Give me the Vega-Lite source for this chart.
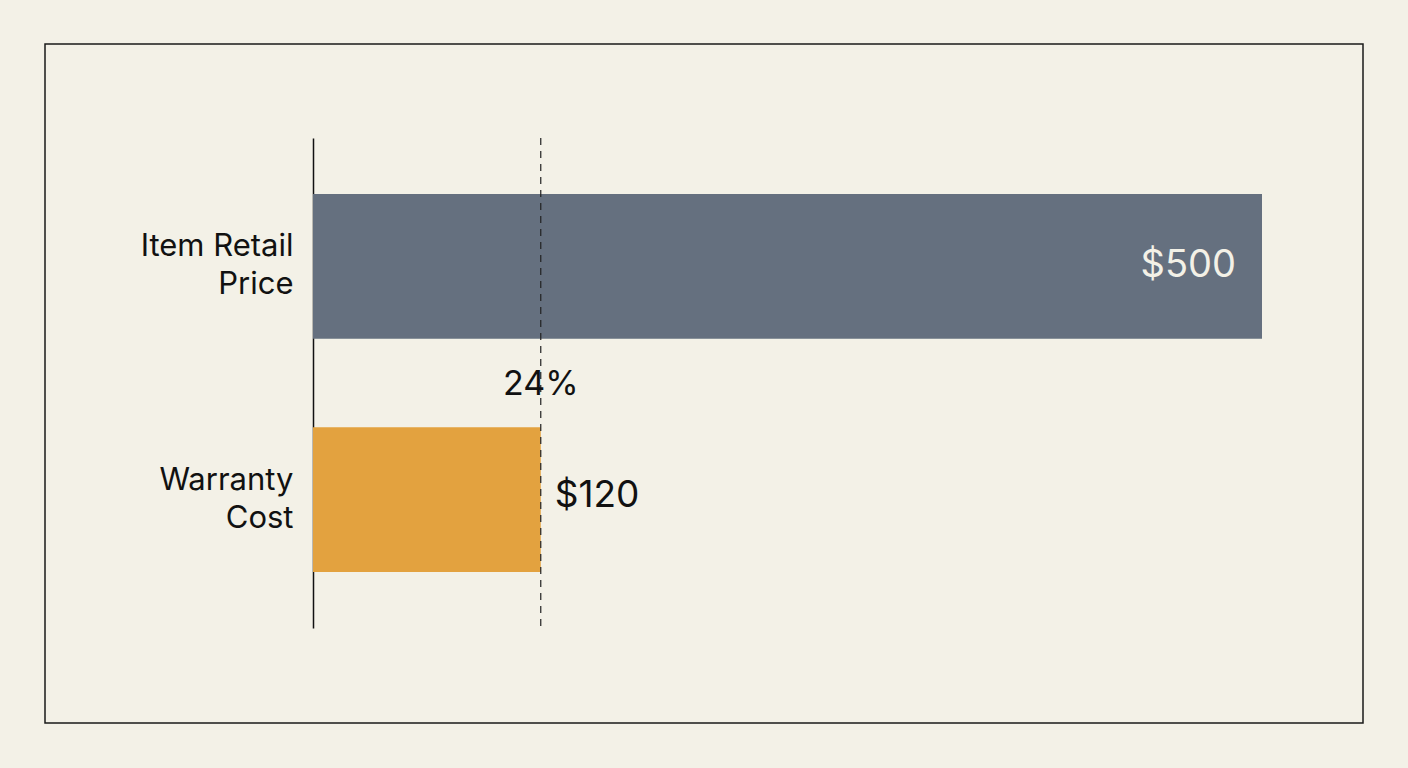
{
  "$schema": "https://vega.github.io/schema/vega-lite/v6.json",
  "width": 1318,
  "height": 679,
  "autosize": {"type": "none"},
  "padding": {"left": 45, "top": 44, "right": 45, "bottom": 45},
  "background": "#F3F1E7",
  "config": {
    "font": "Inter",
    "view": {"stroke": "#1a1a1a", "strokeWidth": 1.5}
  },
  "datasets": {
    "bars": [
      {"item": "Item Retail Price", "value": 500, "label": "$500"},
      {"item": "Warranty Cost", "value": 120, "label": "$120"}
    ],
    "share": [
      {"value": 120, "label": "24%"}
    ]
  },
  "resolve": {"scale": {"y": "independent"}, "axis": {"y": "independent"}},
  "layer": [
    {
      "data": {"name": "bars"},
      "encoding": {
        "y": {
          "field": "item",
          "type": "nominal",
          "sort": null,
          "scale": {"range": [94, 584], "paddingInner": 0.38, "paddingOuter": 0.24},
          "axis": {
            "title": null,
            "ticks": false,
            "offset": -268,
            "domainColor": "#111111",
            "domainWidth": 1.5,
            "labelFontSize": 31,
            "labelColor": "#111111",
            "labelPadding": 20,
            "labelLineHeight": 38,
            "labelOffset": -19,
            "labelExpr": "datum.value == 'Item Retail Price' ? ['Item Retail', 'Price'] : ['Warranty', 'Cost']"
          }
        },
        "x": {
          "field": "value",
          "type": "quantitative",
          "scale": {"domain": [0, 500], "range": [268, 1217], "nice": false},
          "axis": null
        }
      },
      "layer": [
        {
          "mark": {"type": "bar"},
          "encoding": {
            "color": {
              "field": "item",
              "type": "nominal",
              "scale": {"domain": ["Item Retail Price", "Warranty Cost"], "range": ["#65707F", "#E3A23F"]},
              "legend": null
            }
          }
        },
        {
          "transform": [{"filter": "datum.item == 'Item Retail Price'"}],
          "mark": {"type": "text", "align": "right", "baseline": "middle", "dx": -26, "fontSize": 38, "color": "#F3F1E7"},
          "encoding": {"text": {"field": "label"}}
        },
        {
          "transform": [{"filter": "datum.item == 'Warranty Cost'"}],
          "mark": {"type": "text", "align": "left", "baseline": "middle", "dx": 14, "dy": -4, "fontSize": 37, "color": "#111111"},
          "encoding": {"text": {"field": "label"}}
        }
      ]
    },
    {
      "data": {"name": "share"},
      "encoding": {
        "x": {"field": "value", "type": "quantitative"}
      },
      "layer": [
        {
          "mark": {"type": "rule", "strokeDash": [7, 6], "strokeWidth": 1.2, "color": "#222222"},
          "encoding": {
            "y": {"datum": 0, "type": "quantitative", "scale": {"domain": [0, 1], "range": [94, 584]}, "axis": null},
            "y2": {"datum": 1}
          }
        },
        {
          "mark": {"type": "text", "align": "center", "baseline": "middle", "fontSize": 34, "color": "#111111"},
          "encoding": {
            "y": {"datum": 0.505, "type": "quantitative", "scale": {"domain": [0, 1], "range": [94, 584]}, "axis": null},
            "text": {"field": "label"}
          }
        }
      ]
    }
  ]
}
